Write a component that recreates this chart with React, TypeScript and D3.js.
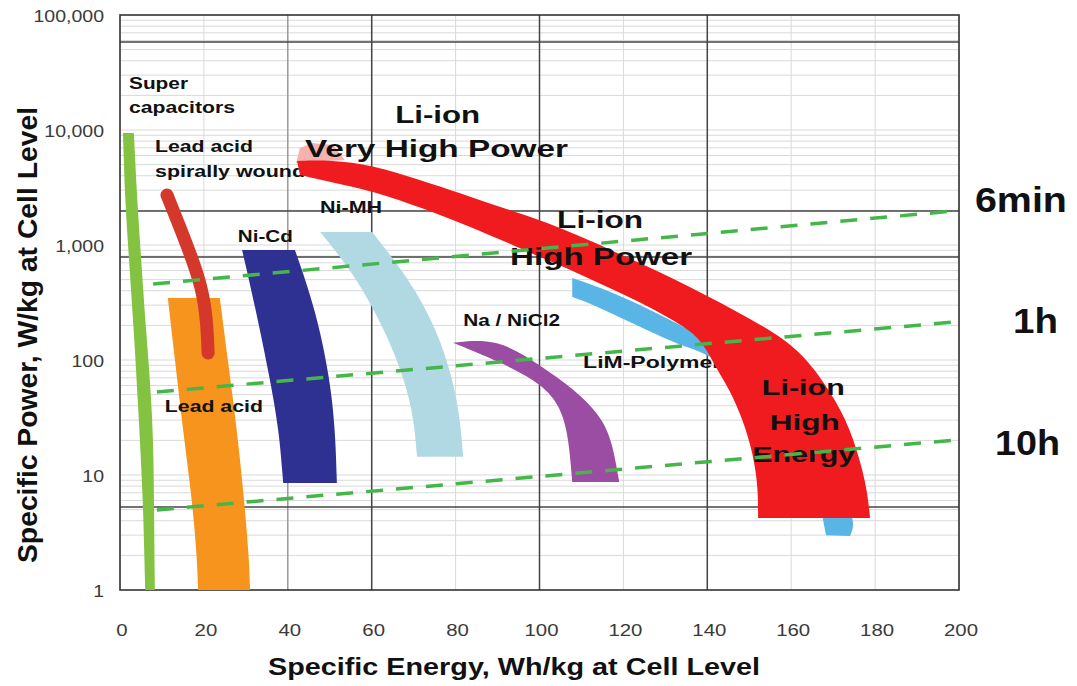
import React from "react";
import * as d3 from "d3";

type Pt = [number, number];

// ---------- axes ----------
const energyTicks = [0, 20, 40, 60, 80, 100, 120, 140, 160, 180, 200];
const powerTicks = [1, 10, 100, 1000, 10000, 100000];
const powerTickLabels = ["1", "10", "100", "1,000", "10,000", "100,000"];
const strongEnergyGrid = [60, 100, 140];
const mediumEnergyGrid = [40];
const strongPowerGrid = [58200, 1980, 787, 5.27];

// ---------- technology regions (energy Wh/kg, power W/kg) ----------
const superCapLeft: Pt[] = [[0.7, 9400], [1.2, 2460], [2.1, 787], [3.3, 182], [4.5, 30], [5.5, 6.07], [6.0, 1]];
const superCapRight: Pt[] = [[3.3, 9400], [4.1, 2460], [5.0, 787], [6.2, 182], [7.9, 30], [8.1, 6.07], [8.3, 1]];
const spiralLeadAcid: Pt[] = [[11.2, 2720], [13.6, 1650], [16.7, 851], [19.5, 432], [20.7, 223], [21.0, 115]];
const leadAcidLeft: Pt[] = [[11.4, 346], [13.1, 100], [15.0, 24.6], [17.2, 6.07], [18.4, 1.82], [18.6, 1]];
const leadAcidRight: Pt[] = [[23.8, 346], [25.7, 100], [27.9, 24.6], [29.6, 6.07], [30.8, 1.82], [31.0, 1]];
const niCdLeft: Pt[] = [[29.1, 905], [32.4, 272], [35.8, 67.0], [37.9, 24.6], [38.9, 8.5]];
const niCdRight: Pt[] = [[41.7, 905], [46.7, 272], [50.1, 67.0], [51.3, 24.6], [51.7, 8.5]];
const niMhLeft: Pt[] = [[47.7, 1300], [56.0, 548], [63.2, 182], [67.9, 67.0], [70.1, 30.1], [70.8, 14.4]];
const niMhRight: Pt[] = [[60.1, 1300], [69.1, 497], [75.6, 182], [79.4, 67.0], [81.1, 30.1], [81.8, 14.4]];
const naNiCl2Outer: Pt[] = [[79.4, 141], [89.9, 155], [100.1, 90.6], [108.5, 54.9], [114.4, 33.3], [117.3, 20.1], [119.0, 8.69]];
const naNiCl2Inner: Pt[] = [[79.4, 141], [90.6, 96.2], [98.9, 67.0], [104.2, 44.9], [106.8, 24.6], [107.8, 8.69]];
const polymerUpper: Pt[] = [[107.8, 516], [116.1, 406], [124.0, 301], [133.5, 201], [143.0, 135], [157.3, 44.9], [164.5, 13.5], [167.4, 4.49], [168.3, 3.0]];
const polymerLower: Pt[] = [[107.8, 353], [112.0, 313], [124.0, 194], [134.2, 130], [139.9, 117], [152.6, 54.9], [162.1, 20.1], [171.6, 7.41], [175.5, 3.9], [174.0, 2.95]];
const liIonOuter: Pt[] = [[42.2, 5370], [50.1, 5490], [60.3, 4960], [71.5, 3680], [81.1, 2830], [90.6, 2140], [101.8, 1585], [116.1, 942], [131.8, 516], [147.8, 256], [160.4, 141], [167.6, 67.0], [173.3, 30.1], [176.4, 13.5], [178.1, 7.41], [178.8, 4.23]];
const liIonInner: Pt[] = [[42.9, 4060], [52.4, 3390], [62.0, 2830], [78.0, 1750], [93.7, 1000], [100.1, 787], [108.0, 594], [116.1, 432], [124.0, 319], [131.8, 223], [138.3, 158], [141.4, 94.2], [145.4, 54.9], [148.5, 30.1], [150.9, 15.5], [152.1, 7.87], [152.1, 4.23]];
const liIonHaze: Pt[] = [[42.0, 5160], [42.9, 6970], [45.8, 7710], [50.8, 7410], [53.6, 5490]];

// ---------- discharge-time guide lines ----------
const sixMinuteLine: Pt[] = [[7.9, 458], [199.0, 1980]];
const oneHourLine: Pt[] = [[8.8, 52.7], [199.0, 214]];
const tenHourLine: Pt[] = [[8.8, 4.97], [199.0, 20.1]];

// ---------- annotations (anchored in data coordinates) ----------
type Note = { text: string; e: number; p: number; size: number; len: number; layer: "under" | "over" };
const notes: Note[] = [
  { text: "Super", e: 2.15, p: 22700, size: 17, len: 59, layer: "over" },
  { text: "capacitors", e: 2.15, p: 14100, size: 17, len: 106, layer: "over" },
  { text: "Lead acid", e: 8.34, p: 6440, size: 17, len: 98, layer: "over" },
  { text: "spirally wound", e: 8.34, p: 3900, size: 17, len: 150, layer: "under" },
  { text: "Ni-Cd", e: 28.1, p: 1060, size: 16, len: 55, layer: "over" },
  { text: "Ni-MH", e: 47.7, p: 1900, size: 16, len: 62, layer: "under" },
  { text: "Lead acid", e: 10.7, p: 35.3, size: 17, len: 98, layer: "over" },
  { text: "Na / NiCl2", e: 81.8, p: 198, size: 16, len: 97, layer: "over" },
  { text: "LiM-Polymer", e: 110.4, p: 85.1, size: 16, len: 138, layer: "under" },
  { text: "Li-ion", e: 65.6, p: 11500, size: 24, len: 85, layer: "over" },
  { text: "Very High Power", e: 44.1, p: 5820, size: 24, len: 263, layer: "over" },
  { text: "Li-ion", e: 104.2, p: 1405, size: 24, len: 86, layer: "over" },
  { text: "High Power", e: 93.0, p: 670, size: 24, len: 182, layer: "over" },
  { text: "Li-ion", e: 153.0, p: 49.7, size: 22, len: 83, layer: "over" },
  { text: "High", e: 154.9, p: 24.6, size: 22, len: 70, layer: "over" },
  { text: "Energy", e: 150.7, p: 13.0, size: 22, len: 103, layer: "over" },
  { text: "6min", e: 203.8, p: 1940, size: 35, len: 92, layer: "over" },
  { text: "1h", e: 212.9, p: 172, size: 35, len: 45, layer: "over" },
  { text: "10h", e: 208.6, p: 14.9, size: 35, len: 65, layer: "over" },
];

const FONT = '"Liberation Sans", Arial, Helvetica, sans-serif';

export default function App() {
  const W = 1077;
  const H = 686;
  const x = d3.scaleLinear().domain([0, 200]).range([120, 959]);
  const y = d3.scaleLog().domain([1, 100000]).range([590, 15]);
  const straight = d3.line<Pt>().x((d) => x(d[0])).y((d) => y(d[1]));
  const smooth = d3
    .line<Pt>()
    .x((d) => x(d[0]))
    .y((d) => y(d[1]))
    .curve(d3.curveBasis);
  const band = (a: Pt[], b: Pt[]) => {
    const pa = smooth(a) as string;
    const pb = smooth(b.slice().reverse()) as string;
    return pa + "L" + pb.slice(1) + "Z";
  };

  const minorPower: number[] = [];
  for (let d = 1; d < 100000; d *= 10) {
    for (let m = 1; m < 10; m++) {
      if (d * m > 1) minorPower.push(d * m);
    }
  }
  const [x0, x1] = x.range();
  const [yb, yt] = y.range();

  const renderNote = (n: Note, i: number) => (
    <text
      key={i}
      x={x(n.e)}
      y={y(n.p)}
      fontSize={n.size}
      fontWeight="bold"
      fontFamily={FONT}
      fill="#111"
      textLength={n.len}
      lengthAdjust="spacingAndGlyphs"
    >
      {n.text}
    </text>
  );

  const dash = (pts: Pt[], k: string) => (
    <path
      key={k}
      d={straight(pts) as string}
      fill="none"
      stroke="#45b649"
      strokeWidth={3.5}
      strokeDasharray="17 13"
    />
  );

  return (
    <svg
      width={W}
      height={H}
      viewBox={`0 0 ${W} ${H}`}
      style={{ position: "absolute", left: 0, top: 0, display: "block", background: "#fff" }}
    >
      <rect x={0} y={0} width={W} height={H} fill="#fff" />

      {/* light grid */}
      <g stroke="#d9d9d9" strokeWidth={1}>
        {minorPower.map((v, i) => (
          <line key={"hp" + i} x1={x0} x2={x1} y1={y(v)} y2={y(v)} />
        ))}
        {energyTicks.map((v, i) => (
          <line key={"ve" + i} x1={x(v)} x2={x(v)} y1={yb} y2={yt} />
        ))}
      </g>
      <g stroke="#8a8a8a" strokeWidth={1.2}>
        {mediumEnergyGrid.map((v, i) => (
          <line key={"me" + i} x1={x(v)} x2={x(v)} y1={yb} y2={yt} />
        ))}
      </g>
      <g stroke="#444" strokeWidth={1.5}>
        {strongEnergyGrid.map((v, i) => (
          <line key={"se" + i} x1={x(v)} x2={x(v)} y1={yb} y2={yt} />
        ))}
        {strongPowerGrid.map((v, i) => (
          <line key={"sp" + i} x1={x0} x2={x1} y1={y(v)} y2={y(v)} />
        ))}
      </g>
      <rect x={x0} y={yt} width={x1 - x0} height={yb - yt} fill="none" stroke="#333" strokeWidth={1.6} />

      {/* regions */}
      <path d={band(leadAcidLeft, leadAcidRight)} fill="#f7941d" />
      <path d={band(superCapLeft, superCapRight)} fill="#84c341" />
      <path
        d={smooth(spiralLeadAcid) as string}
        fill="none"
        stroke="#d3382a"
        strokeWidth={13}
        strokeLinecap="round"
      />
      <path d={band(niCdLeft, niCdRight)} fill="#2e3192" />
      <path d={band(niMhLeft, niMhRight)} fill="#b0d9e3" />
      <path d={band(naNiCl2Outer, naNiCl2Inner)} fill="#9b4da3" />
      <path d={band(polymerUpper, polymerLower)} fill="#58b5e6" />
      <path d={straight(liIonHaze) + "Z"} fill="#f5b3b0" />

      {notes.filter((n) => n.layer === "under").map(renderNote)}

      <path d={band(liIonOuter, liIonInner)} fill="#ef1b1f" />

      {notes.filter((n) => n.layer === "over").map(renderNote)}

      {dash(sixMinuteLine, "d6")}
      {dash(oneHourLine, "d1")}
      {dash(tenHourLine, "d10")}

      {/* tick labels */}
      {energyTicks.map((v, i) => (
        <text
          key={"xt" + i}
          transform={`translate(${x(v) + 2},636) scale(1.2,1)`}
          textAnchor="middle"
          fontSize={17}
          fontFamily={FONT}
          fill="#3a3a3a"
        >
          {v}
        </text>
      ))}
      {powerTicks.map((v, i) => (
        <text
          key={"yt" + i}
          transform={`translate(104,${y(v) + 7}) scale(1.22,1)`}
          textAnchor="end"
          fontSize={16}
          fontFamily={FONT}
          fill="#3a3a3a"
        >
          {powerTickLabels[i]}
        </text>
      ))}

      {/* axis titles */}
      <text
        x={514}
        y={675}
        textAnchor="middle"
        fontSize={24}
        fontWeight="bold"
        fontFamily={FONT}
        fill="#111"
        textLength={492}
        lengthAdjust="spacingAndGlyphs"
      >
        Specific Energy, Wh/kg at Cell Level
      </text>
      <text
        transform="translate(37,335) rotate(-90)"
        textAnchor="middle"
        fontSize={27}
        fontWeight="bold"
        fontFamily={FONT}
        fill="#111"
        textLength={456}
        lengthAdjust="spacingAndGlyphs"
      >
        Specific Power, W/kg at Cell Level
      </text>
    </svg>
  );
}
